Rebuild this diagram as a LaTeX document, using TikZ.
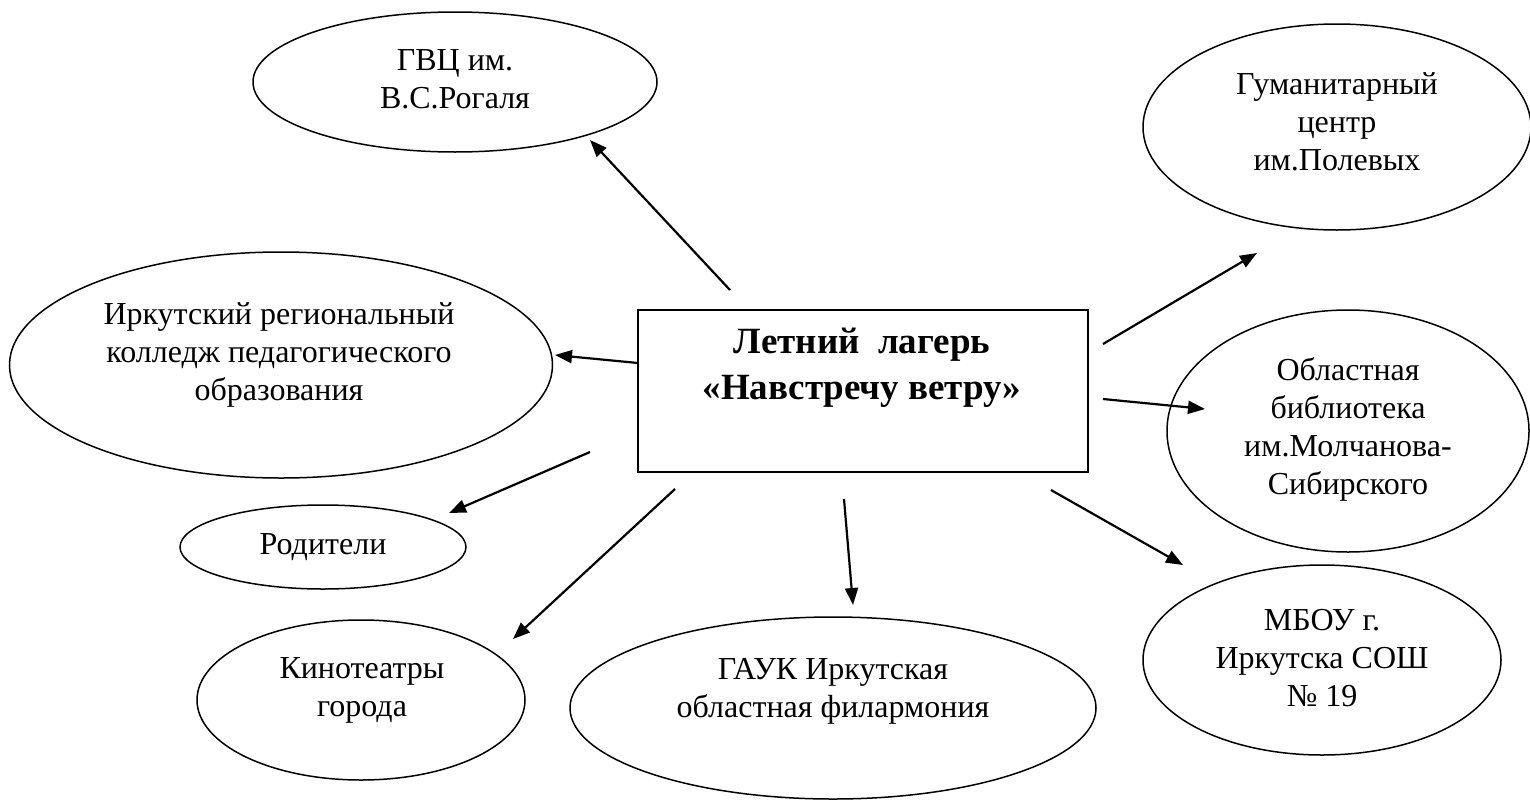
\documentclass[tikz,border=0pt]{standalone}
\usepackage{fontspec}
\setmainfont{Liberation Serif}
\usetikzlibrary{shapes.geometric,arrows.meta}
\tikzset{
  ell/.style={draw, ellipse, line width=1.5pt, inner sep=0pt},
  txt/.style={align=center, inner sep=0pt, font=\fontsize{32}{38}\selectfont},
  arr/.style={line width=2.2pt, -{Triangle[length=17pt,width=13pt]}},
  mainbox/.style={draw, line width=2pt, inner sep=0pt}
}
\begin{document}
\begin{tikzpicture}[x=1pt,y=-1pt]
\useasboundingbox (0,0) rectangle (1530,803);
\clip (0,0) rectangle (1530,803);
% central box
\node[mainbox, minimum width=450pt, minimum height=162pt] (box) at (863,391) {};
\node[txt, font=\bfseries\fontsize{37}{46}\selectfont] (title) at (862,368) {Летний\ \ лагерь\\«Навстречу ветру»};
% ellipses
\node[ell, minimum width=404pt, minimum height=140pt] (e1) at (455,82) {};
\node[txt] (t1) at (455,79) {ГВЦ им.\\В.С.Рогаля};
\node[ell, minimum width=388pt, minimum height=206pt] (e2) at (1337,127) {};
\node[txt] (t2) at (1337,122) {Гуманитарный\\центр\\им.Полевых};
\node[ell, minimum width=543pt, minimum height=226pt] (e3) at (281,365) {};
\node[txt] (t3) at (279,355) {Иркутский региональный\\колледж педагогического\\образования};
\node[ell, minimum width=362pt, minimum height=242pt] (e4) at (1348,431) {};
\node[txt] (t4) at (1348,429) {Областная\\библиотека\\им.Молчанова-\\Сибирского};
\node[ell, minimum width=286pt, minimum height=84pt] (e5) at (323,547) {};
\node[txt] (t5) at (323,547) {Родители};
\node[ell, minimum width=328pt, minimum height=160pt] (e6) at (361,700) {};
\node[txt] (t6) at (362,690) {Кинотеатры\\города};
\node[ell, minimum width=526pt, minimum height=182pt] (e7) at (833,708) {};
\node[txt] (t7) at (833,691) {ГАУК Иркутская\\областная филармония};
\node[ell, minimum width=358pt, minimum height=190pt] (e8) at (1322,660) {};
\node[txt] (t8) at (1322,658) {МБОУ г.\\Иркутска СОШ\\№ 19};
% arrow end points
\coordinate (a1s) at (730,290); \coordinate (a1e) at (590,140);
\coordinate (a2s) at (1103,344); \coordinate (a2e) at (1257,253);
\coordinate (a3s) at (638,363); \coordinate (a3e) at (555,355);
\coordinate (a4s) at (1103,399); \coordinate (a4e) at (1205,409);
\coordinate (a5s) at (590,452); \coordinate (a5e) at (449,513);
\coordinate (a6s) at (675,489); \coordinate (a6e) at (513,639);
\coordinate (a7s) at (844,499); \coordinate (a7e) at (853,605);
\coordinate (a8s) at (1051,490); \coordinate (a8e) at (1183,565);
\draw[arr] (a1s) -- (a1e);
\draw[arr] (a2s) -- (a2e);
\draw[arr] (a3s) -- (a3e);
\draw[arr] (a4s) -- (a4e);
\draw[arr] (a5s) -- (a5e);
\draw[arr] (a6s) -- (a6e);
\draw[arr] (a7s) -- (a7e);
\draw[arr] (a8s) -- (a8e);
\end{tikzpicture}
\end{document}
